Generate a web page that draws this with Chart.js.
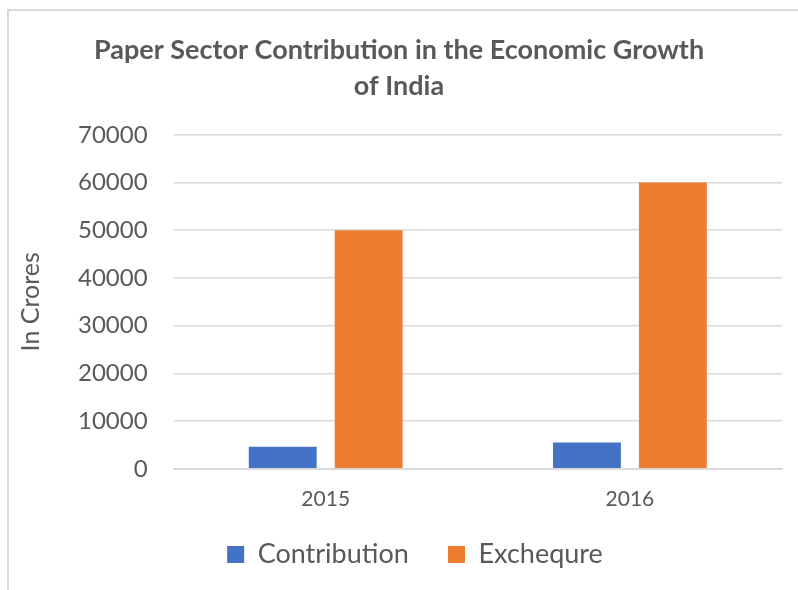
<!DOCTYPE html>
<html>
<head>
<meta charset="utf-8">
<script src="https://cdn.jsdelivr.net/npm/chart.js@4"></script>
<style>
  html, body { margin: 0; padding: 0; background: #ffffff; }
  #wrap { position: relative; width: 798px; height: 590px; }
  #frame {
    position: absolute; left: 7px; top: 9px; right: 0; bottom: 0;
    border-left: 2px solid #d9d9d9; border-top: 2px solid #d9d9d9;
  }
  canvas { position: absolute; left: 0; top: 0; }
</style>
</head>
<body>
<div id="wrap">
  <div id="frame"></div>
  <canvas id="paperChart" width="798" height="590"></canvas>
</div>
<script>
// Paper sector vs. exchequer, in crores

const years = ['2015', '2016'];
const contribution = [4600, 5500];
const exchequre = [50000, 60000];
const yTicks = [0, 10000, 20000, 30000, 40000, 50000, 60000, 70000];

const textGrey = '#595959';
const gridGrey = '#d9d9d9';
const fontFamily = 'Lato, "Liberation Sans", sans-serif';

const ctx = document.getElementById('paperChart').getContext('2d');

// nudge the legend a little to the right, under the plot
const legendShift = {
    id: 'legendShift',
    afterLayout: function (chart) {
        if (!chart.legend) return;
        chart.legend.left += 16;
        chart.legend.right += 16;
    }
};

new Chart(ctx, {
    type: 'bar',
    data: {
        labels: years,
        datasets: [
            {
                label: 'Contribution',
                data: contribution,
                backgroundColor: '#4472C4',
                categoryPercentage: 0.565,
                barPercentage: 0.79
            },
            {
                label: 'Exchequre',
                data: exchequre,
                backgroundColor: '#ED7D31',
                categoryPercentage: 0.565,
                barPercentage: 0.79
            }
        ]
    },
    plugins: [legendShift],
    options: {
        responsive: false,
        animation: false,
        layout: { padding: { left: 16, right: 16, top: 32, bottom: 12 } },
        plugins: {
            title: {
                display: true,
                text: ['Paper Sector Contribution in the Economic Growth', 'of India'],
                color: textGrey,
                font: { family: fontFamily, size: 27, weight: 'bold', lineHeight: 1.33 },
                padding: { top: 0, bottom: 31 }
            },
            legend: {
                position: 'bottom',
                labels: {
                    color: textGrey,
                    boxWidth: 17,
                    boxHeight: 17,
                    padding: 19,
                    font: { family: fontFamily, size: 27 },
                    // wider gap between the two legend entries
                    generateLabels: function (chart) {
                        const items = Chart.defaults.plugins.legend.labels.generateLabels(chart);
                        items.forEach(function (item, i) {
                            if (i < items.length - 1) item.text += '\u2003';
                        });
                        return items;
                    }
                }
            },
            tooltip: { enabled: false }
        },
        scales: {
            x: {
                grid: { display: false },
                border: { color: gridGrey, width: 2 },
                ticks: { color: textGrey, padding: 10, font: { family: fontFamily, size: 21 } }
            },
            y: {
                min: 0,
                max: 70000,
                afterBuildTicks: function (axis) {
                    axis.ticks = yTicks.map(function (v) { return { value: v }; });
                },
                grid: { color: gridGrey, lineWidth: 1.5, drawTicks: false },
                border: { display: false },
                ticks: {
                    color: textGrey,
                    padding: 26,
                    font: { family: fontFamily, size: 24 },
                    callback: function (v) { return String(v); }
                },
                title: {
                    display: true,
                    text: 'In Crores',
                    color: textGrey,
                    font: { family: fontFamily, size: 25 },
                    padding: { top: 0, bottom: 6 }
                }
            }
        }
    }
});
</script>
</body>
</html>
